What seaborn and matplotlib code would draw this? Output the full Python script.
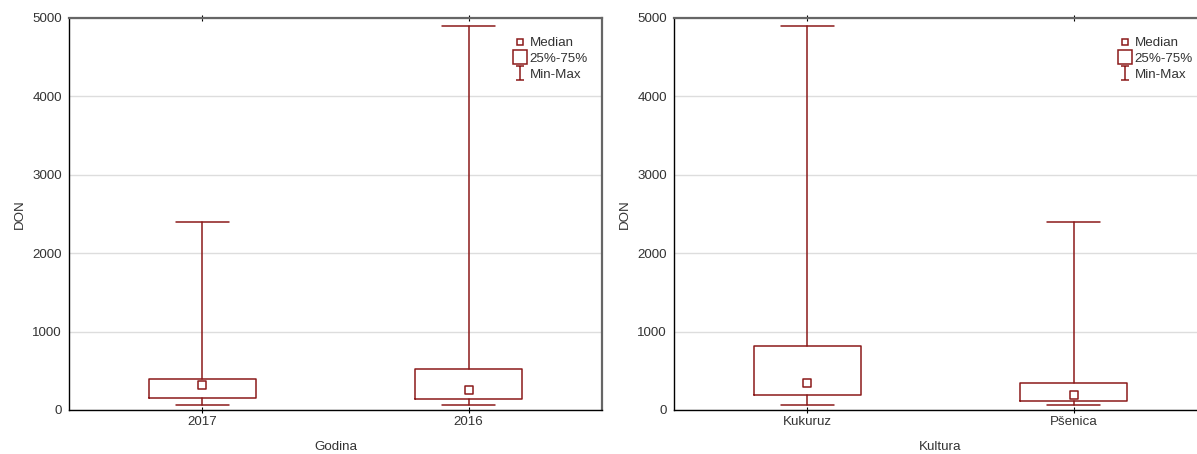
import matplotlib
matplotlib.use("Agg")
import matplotlib.pyplot as plt
import seaborn as sns
import pandas as pd
from matplotlib.lines import Line2D
from matplotlib.path import Path

# ---- data ----
godina_cats = ["2017", "2016"]
godina_min = [64, 64]
godina_q1 = [157, 140]
godina_med = [319, 251]
godina_q3 = [395, 527]
godina_max = [2400, 4900]

kultura_cats = ["Kukuruz", "Pšenica"]
kultura_min = [64, 64]
kultura_q1 = [187, 119]
kultura_med = [340, 191]
kultura_q3 = [820, 348]
kultura_max = [4900, 2400]

yticks = [0, 1000, 2000, 3000, 4000, 5000]
legend_labels = ["Median", "25%-75%", "Min-Max"]

sns.set_theme(style="white")
plt.rcParams["font.family"] = ["Liberation Sans", "DejaVu Sans"]

RED = "#8b1a1a"
TXT = "#333333"
FS = 9.6

fig = plt.figure(figsize=(11.97, 4.54), dpi=100)
ax1 = fig.add_axes([69/1197, 1-410/454, 533/1197, 392/454])
ax2 = fig.add_axes([674/1197, 1-410/454, 533/1197, 392/454])

Imarker = Path([(-0.6, 1), (0.6, 1), (0, 1), (0, -1), (-0.6, -1), (0.6, -1)],
               [Path.MOVETO, Path.LINETO, Path.MOVETO, Path.LINETO, Path.MOVETO, Path.LINETO])


def draw(ax, cats, mn, q1, med, q3, mx, xlabel):
    stats = []
    for i, c in enumerate(cats):
        stats.append(dict(label=c, whislo=mn[i], q1=q1[i], med=med[i], q3=q3[i], whishi=mx[i], fliers=[]))
    ax.bxp(stats, positions=range(len(cats)), widths=0.4, showfliers=False,
           boxprops=dict(color=RED, linewidth=1.1),
           whiskerprops=dict(color=RED, linewidth=1.1),
           capprops=dict(color=RED, linewidth=1.1),
           medianprops=dict(linewidth=0, color="none"),
           capwidths=0.2, manage_ticks=False)
    df = pd.DataFrame({"x": list(range(len(cats))), "y": med})
    sns.scatterplot(data=df, x="x", y="y", ax=ax, marker="s", s=30,
                    facecolor="white", edgecolor=RED, linewidth=1.1, zorder=5)
    ax.set_xlim(-0.5, len(cats) - 0.5)
    ax.set_ylim(0, 5000)
    ax.set_xticks(range(len(cats)))
    ax.set_xticklabels(cats)
    ax.set_yticks(yticks)
    ax.set_yticklabels([str(v) for v in yticks])
    ax.yaxis.grid(True, color="#dddddd", linewidth=1)
    ax.set_axisbelow(True)
    ax.tick_params(axis="x", direction="inout", length=5, color="black", labelsize=FS,
                   labelcolor=TXT, top=True, bottom=True, pad=2, width=0.8)
    ax.tick_params(axis="y", length=0, labelsize=FS, labelcolor=TXT, pad=5)
    ax.set_xlabel(xlabel, fontsize=FS, color=TXT, labelpad=9)
    ax.set_ylabel("DON", fontsize=FS, color=TXT, labelpad=5)
    for s in ["left", "bottom"]:
        ax.spines[s].set_color("black")
        ax.spines[s].set_linewidth(1.0)
    for s in ["top", "right"]:
        ax.spines[s].set_color("#666666")
        ax.spines[s].set_linewidth(1.6)
    handles = [
        Line2D([], [], linestyle="none", marker="s", markersize=5, markerfacecolor="white",
               markeredgecolor=RED, markeredgewidth=1.1),
        Line2D([], [], linestyle="none", marker="s", markersize=10, markerfacecolor="white",
               markeredgecolor=RED, markeredgewidth=1.1),
        Line2D([], [], linestyle="none", marker=Imarker, markersize=10, markerfacecolor="none",
               markeredgecolor=RED, markeredgewidth=1.1),
    ]
    leg = ax.legend(handles, legend_labels, loc="upper left", bbox_to_anchor=(446/533, 1 - 19/392),
                    frameon=False, fontsize=FS, handlelength=0.8, handletextpad=0.3,
                    labelspacing=0.25, borderpad=0, borderaxespad=0)
    for t in leg.get_texts():
        t.set_color(TXT)


draw(ax1, godina_cats, godina_min, godina_q1, godina_med, godina_q3, godina_max, "Godina")
draw(ax2, kultura_cats, kultura_min, kultura_q1, kultura_med, kultura_q3, kultura_max, "Kultura")

fig.savefig("out.png", dpi=100)
